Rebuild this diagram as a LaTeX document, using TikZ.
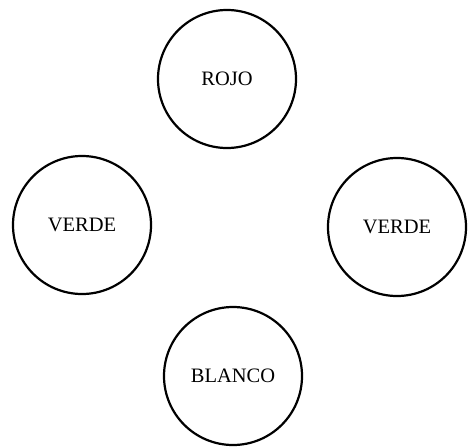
\documentclass[tikz,border=0pt]{standalone}
\usepackage{fontspec}
\setmainfont{Liberation Serif}
\usetikzlibrary{positioning}
\tikzset{
  circulo/.style={draw=black, circle, line width=2.2pt, minimum size=138pt, inner sep=0pt,
                  font=\fontsize{20.5pt}{24pt}\selectfont},
}
\begin{document}
\begin{tikzpicture}[x=1pt, y=-1pt]
    \useasboundingbox (0,0) rectangle (470,447);
    \node[circulo] (rojo) at (227,79) {ROJO};
    \node[circulo] (verdeA) at (82,225) {VERDE};
    \node[circulo] (verdeB) at (397,227) {VERDE};
    \node[circulo] (blanco) at (233,376) {BLANCO};
  \end{tikzpicture}
\end{document}
